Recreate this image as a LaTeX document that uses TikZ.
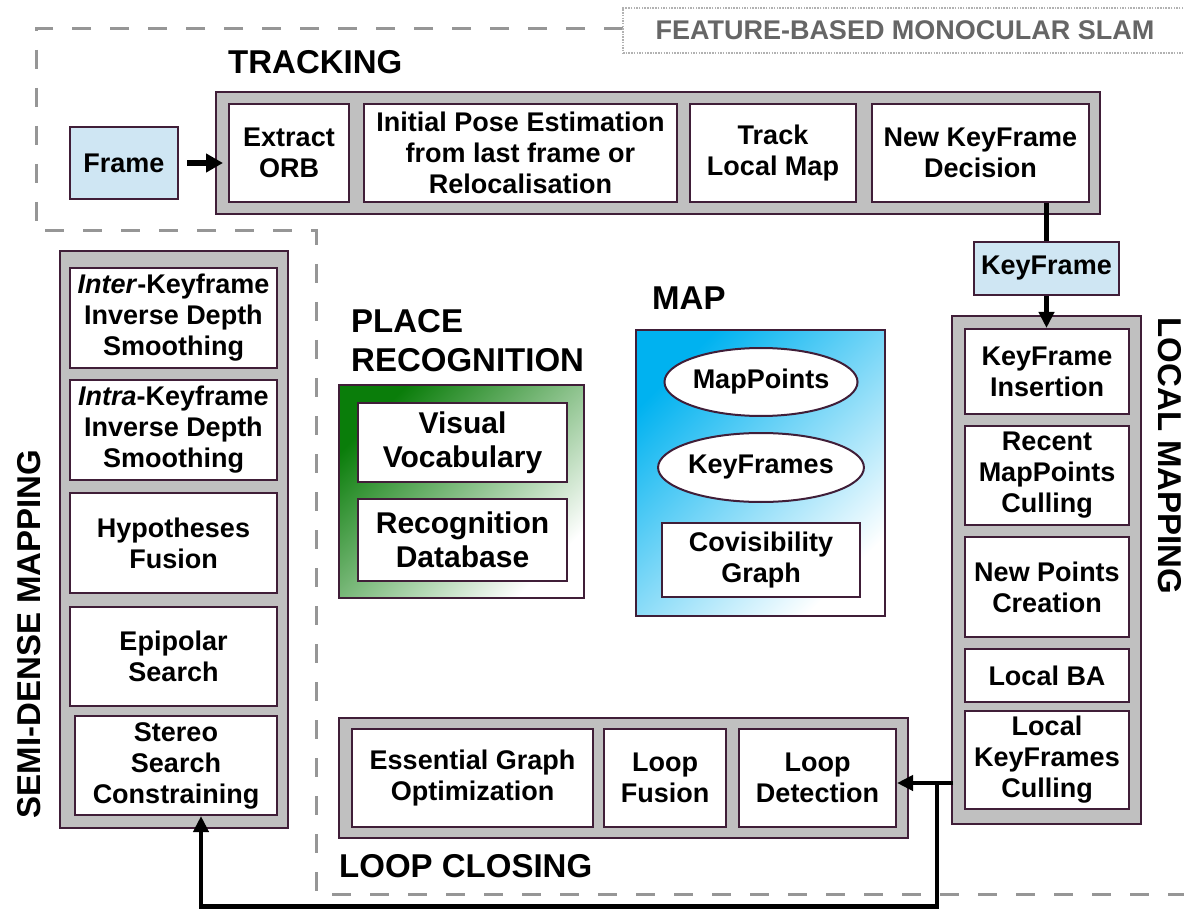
\documentclass[tikz,border=0pt]{standalone}
\usepackage{fontspec}
\setmainfont{Liberation Sans}
\usetikzlibrary{arrows.meta,shapes.geometric}
\definecolor{bord}{RGB}{64,30,56}
\definecolor{boxgray}{RGB}{192,192,192}
\definecolor{lblue}{RGB}{207,230,243}
\definecolor{dashgray}{RGB}{150,150,150}
\definecolor{titlegray}{RGB}{102,102,102}
\definecolor{pgreen}{RGB}{10,125,10}
\definecolor{mcyan}{RGB}{0,178,240}
\newcommand\bodyfont{\fontsize{27}{31}\selectfont\bfseries}
\newcommand\placefont{\fontsize{30}{34}\selectfont\bfseries}
\newcommand\headfont{\fontsize{33}{39}\selectfont\bfseries}
\begin{document}
\begin{tikzpicture}[x=1pt,y=-1pt,
  outbox/.style={draw=bord,fill=boxgray,line width=2.2pt,inner sep=0pt},
  inbox/.style={draw=bord,fill=white,line width=2pt,inner sep=0pt,align=center,font=\bodyfont},
  ellbox/.style={ellipse,draw=bord,fill=white,line width=2pt,inner sep=0pt,font=\bodyfont},
  wh/.style 2 args={minimum width=#1pt,minimum height=#2pt},
  heading/.style={inner sep=0pt,font=\headfont,anchor=base west},
  region/.style={draw=dashgray,line width=3pt,dash pattern=on 19pt off 19pt},
  titlebox/.style={draw=gray!60,fill=white,line width=1.5pt,dash pattern=on 1.5pt off 1.2pt,inner sep=0pt,font=\bodyfont,text=titlegray},
  arr/.style={line width=4.5pt,-{Triangle[length=16pt,width=15pt]}},
  arrfr/.style={line width=6pt,-{Triangle[length=17pt,width=18pt]}},
  wire/.style={line width=4.5pt}]
\useasboundingbox (0,0) rectangle (1184,909);

% dashed region of the feature-based SLAM
\draw[region] (623,29) -- (36,29) -- (36,231) -- (316,231) -- (316,894) -- (1184,894);
\node[titlebox,wh={564}{45}] (title) at (905,30.5) {FEATURE-BASED MONOCULAR SLAM};

% tracking
\node[heading] (trackT) at (228,73.5) {TRACKING};
\node[outbox,wh={884}{122}] (trk) at (658,153) {};
\node[inbox,wh={120}{98}] (orb) at (289,153) {Extract\\ORB};
\node[inbox,wh={313}{98}] (ipe) at (520.5,153) {Initial Pose Estimation\\from last frame or\\Relocalisation};
\node[inbox,wh={166}{98}] (tlm) at (773,153) {Track\\Local Map};
\node[inbox,wh={217}{98}] (nkd) at (980.5,153) {New KeyFrame\\Decision};
\node[inbox,fill=lblue,wh={108}{72}] (frame) at (124,163) {Frame};

% keyframe
\node[inbox,fill=lblue,wh={145}{53}] (kf) at (1046.5,268.5) {KeyFrame};

% local mapping
\node[outbox,wh={189}{508}] (lmo) at (1046.5,570) {};
\node[inbox,wh={164}{85}] (kfi) at (1047,371.5) {KeyFrame\\Insertion};
\node[inbox,wh={164}{99}] (rmc) at (1047,475.5) {Recent\\MapPoints\\Culling};
\node[inbox,wh={164}{100}] (npc) at (1047,587) {New Points\\Creation};
\node[inbox,wh={164}{53}] (lba) at (1047,675.5) {Local BA};
\node[inbox,wh={164}{98}] (lkc) at (1047,760) {Local\\KeyFrames\\Culling};
\node[heading,anchor=center,rotate=-90] (lmT) at (1170,456) {LOCAL MAPPING};

% semi-dense mapping
\node[outbox,wh={228}{577}] (sdo) at (174,539.5) {};
\node[inbox,wh={207}{100}] (inter) at (173.5,318) {\textit{Inter}-Keyframe\\Inverse Depth\\Smoothing};
\node[inbox,wh={207}{100}] (intra) at (173.5,430) {\textit{Intra}-Keyframe\\Inverse Depth\\Smoothing};
\node[inbox,wh={207}{100}] (hyp) at (173.5,543) {Hypotheses\\Fusion};
\node[inbox,wh={207}{99}] (epi) at (173.5,656.5) {Epipolar\\Search};
\node[inbox,wh={202}{99}] (stereo) at (176,765.5) {Stereo\\Search\\Constraining};
\node[heading,anchor=center,rotate=90] (sdT) at (29.5,634) {SEMI-DENSE MAPPING};

% place recognition
\node[heading] (prT1) at (351,333) {PLACE};
\node[heading] (prT2) at (351,372) {RECOGNITION};
\node[draw=bord,line width=2pt,top color=pgreen,middle color=pgreen!70,bottom color=white,shading angle=45,wh={245}{213}] (prb) at (461.5,491.5) {};
\node[inbox,font=\placefont,wh={209}{79}] (vv) at (462.5,442.5) {Visual\\Vocabulary};
\node[inbox,font=\placefont,wh={209}{82}] (rdb) at (462.5,540) {Recognition\\Database};

% map
\node[heading] (mapT) at (652,310) {MAP};
\node[draw=bord,line width=2pt,top color=mcyan,middle color=mcyan!65,bottom color=white,shading angle=45,wh={249}{286}] (mapb) at (760.5,473) {};
\node[ellbox,wh={190}{68}] (mp) at (761,382) {MapPoints};
\node[ellbox,wh={190}{69}] (kfs) at (761,467.5) {KeyFrames};
\node[inbox,wh={198}{74}] (cg) at (761,560) {Covisibility\\Graph};

% loop closing
\node[outbox,wh={569}{120}] (lco) at (623.5,778) {};
\node[inbox,wh={241}{98}] (ego) at (472.5,778) {Essential Graph\\Optimization};
\node[inbox,wh={122}{98}] (lf) at (665,778) {Loop\\Fusion};
\node[inbox,wh={157}{98}] (ld) at (817.5,778) {Loop\\Detection};
\node[heading] (lcT) at (339,877) {LOOP CLOSING};

% connectors
\draw[arrfr,shorten <=8pt,shorten >=5pt] (frame.east) -- (frame.east -| orb.west);
\draw[wire] (kf |- nkd.south) -- (kf.north);
\draw[arr] (kf.south) -- (kf |- kfi.north);
\coordinate (j1) at (953,783);
\coordinate (j2) at (937,783);
\coordinate (j3) at (937,906.5);
\coordinate (j4) at (201,906.5);
\draw[arr] (j1) -- (ld.east |- j1);
\draw[arr] (j2) -- (j3) -- (j4) -- (j4 |- stereo.south);
\end{tikzpicture}
\end{document}
